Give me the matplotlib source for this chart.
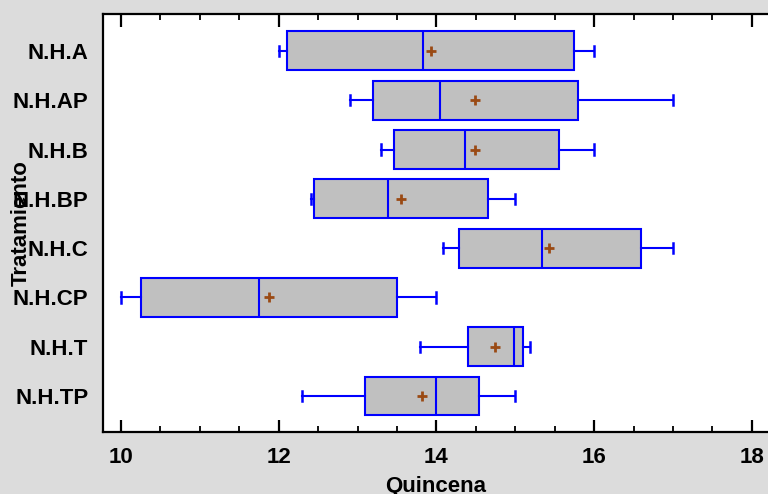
import matplotlib
matplotlib.use("Agg")
import matplotlib.pyplot as plt
from matplotlib.ticker import MultipleLocator

categories = ["N.H.A", "N.H.AP", "N.H.B", "N.H.BP", "N.H.C", "N.H.CP", "N.H.T", "N.H.TP"]
whislo = [12.0, 12.9, 13.3, 12.41, 14.09, 10.0, 13.79, 12.29]
q1 = [12.1, 13.19, 13.46, 12.45, 14.29, 10.25, 14.4, 13.1]
median = [13.83, 14.04, 14.36, 13.39, 15.34, 11.75, 14.98, 14.0]
mean = [13.93, 14.49, 14.49, 13.55, 15.43, 11.88, 14.74, 13.82]
q3 = [15.75, 15.8, 15.55, 14.65, 16.6, 13.5, 15.1, 14.54]
whishi = [16.0, 17.0, 16.0, 15.0, 17.0, 14.0, 15.19, 15.0]
x_ticks = [10, 12, 14, 16, 18]

plt.rcParams['font.family'] = ['Liberation Sans', 'DejaVu Sans']
plt.rcParams['font.weight'] = 'bold'

W, H = 768, 494
fig = plt.figure(figsize=(W / 100, H / 100), dpi=100, facecolor='#DCDCDC')
ax = fig.add_axes([103.3 / W, (H - 432) / H, (790 - 103.3) / W, (432 - 14) / H])
ax.set_facecolor('white')

stats = []
for i, c in enumerate(categories):
    stats.append(dict(label=c, whislo=whislo[i], q1=q1[i], med=median[i],
                      q3=q3[i], whishi=whishi[i], mean=mean[i], fliers=[]))

positions = list(range(1, len(categories) + 1))
blue = '#0000FF'
ax.bxp(stats, positions=positions, widths=0.79, capwidths=0.21,
       orientation='horizontal', patch_artist=True, showmeans=True,
       boxprops=dict(facecolor='#C0C0C0', edgecolor=blue, linewidth=1.5),
       medianprops=dict(color=blue, linewidth=1.5),
       whiskerprops=dict(color=blue, linewidth=1.5),
       capprops=dict(color=blue, linewidth=1.8),
       meanprops=dict(marker='+', markeredgecolor='#9A4A14', markersize=7,
                      markeredgewidth=2, markerfacecolor='#9A4A14'))

ax.set_xlim(9.776, 18.484)
ax.set_ylim(8.73, 0.25)
ax.set_yticks(positions)
ax.set_yticklabels(categories, fontsize=16, fontweight='bold')
ax.set_xticks(x_ticks)
ax.set_xticklabels([str(t) for t in x_ticks], fontsize=16, fontweight='bold')
ax.xaxis.set_minor_locator(MultipleLocator(0.5))

ax.tick_params(axis='x', which='major', direction='in', length=9, width=1.6,
               top=True, bottom=True, pad=11)
ax.tick_params(axis='x', which='minor', direction='in', length=4.5, width=1.3,
               top=True, bottom=True)
ax.tick_params(axis='y', which='both', length=0, pad=10.8)

for s in ax.spines.values():
    s.set_linewidth(1.6)
    s.set_color('black')

fig.text(435.6 / W, 1 - 486 / H, "Quincena", ha='center', va='center',
         fontsize=16, fontweight='bold')
fig.text(21 / W, 1 - 223 / H, "Tratamiento", ha='center', va='center',
         rotation=90, fontsize=16, fontweight='bold')

fig.savefig("out.png", dpi=100, facecolor=fig.get_facecolor())
